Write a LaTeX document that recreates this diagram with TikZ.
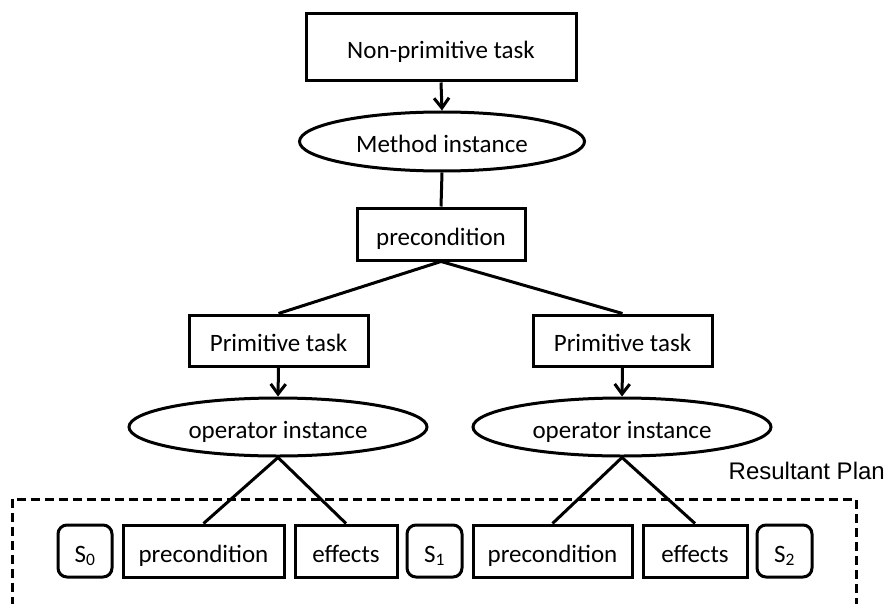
\documentclass[tikz,border=0pt]{standalone}
\usepackage{fontspec}
\setmainfont{Carlito}
\newfontfamily\labelfont{Liberation Sans}
\usetikzlibrary{shapes.geometric,arrows.meta}
\begin{document}
\begin{tikzpicture}[x=1pt,y=-1pt,
  every node/.style={font=\fontsize{25}{30}\selectfont, inner sep=0pt,
    text height=22pt, text depth=0pt},
  box/.style={draw, rectangle, line width=3pt, minimum height=52pt},
  oval/.style={draw, ellipse, line width=3pt},
  statebox/.style={draw, rectangle, rounded corners=9pt, line width=3pt,
    minimum width=54pt, minimum height=52pt},
  link/.style={line width=3pt},
  flow/.style={line width=3pt, -{Straight Barb[length=10pt,width=15pt,line width=3pt]}},
  frame/.style={line width=3pt, dash pattern=on 9pt off 5pt}]
\useasboundingbox (0,0) rectangle (890,604);
\clip (0,0) rectangle (890,604);

% hierarchy of tasks
\node[box, minimum width=270pt, minimum height=67pt] (np) at (441,47.5) {Non-primitive task};
\node[oval, minimum width=285pt, minimum height=59pt] (mi) at (442,141.5) {Method instance};
\node[box, minimum width=168pt] (pc) at (441,234) {precondition};
\node[box, minimum width=179pt, minimum height=51pt] (pt1) at (278.5,340.5) {Primitive task};
\node[box, minimum width=179pt, minimum height=51pt] (pt2) at (622.5,340.5) {Primitive task};
\node[oval, minimum width=298pt, minimum height=58pt] (oi1) at (278,427) {operator instance};
\node[oval, minimum width=298pt, minimum height=58pt] (oi2) at (622,427) {operator instance};

% plan steps
\node[statebox] (s0) at (85,551) {S\textsubscript{0}};
\node[box, minimum width=161pt] (pre1) at (203.5,551) {precondition};
\node[box, minimum width=102pt] (eff1) at (346,551) {effects};
\node[statebox, minimum width=55pt] (s1) at (434.5,551) {S\textsubscript{1}};
\node[box, minimum width=159pt] (pre2) at (552.5,551) {precondition};
\node[box, minimum width=104pt] (eff2) at (695,551) {effects};
\node[statebox, minimum width=55pt] (s2) at (784.5,551) {S\textsubscript{2}};

% plan frame and its label
\draw[frame] (12,620) -- (12,499) -- (856,499) -- (856,620);
\node[font=\labelfont\fontsize{24}{28}\selectfont, anchor=base east, text height=, text depth=] (rp) at (885,479) {Resultant Plan};

% connectors
\draw[flow] (np.south) -- (mi.north);
\draw[link] (mi.south) -- (pc.north);
\draw[link] (pc.south) -- (pt1.north);
\draw[link] (pc.south) -- (pt2.north);
\draw[flow] (pt1.south) -- (oi1.north);
\draw[flow] (pt2.south) -- (oi2.north);
\draw[link] (oi1.south) -- (pre1.north);
\draw[link] (oi1.south) -- (eff1.north);
\draw[link] (oi2.south) -- (pre2.north);
\draw[link] (oi2.south) -- (eff2.north);
\end{tikzpicture}
\end{document}
